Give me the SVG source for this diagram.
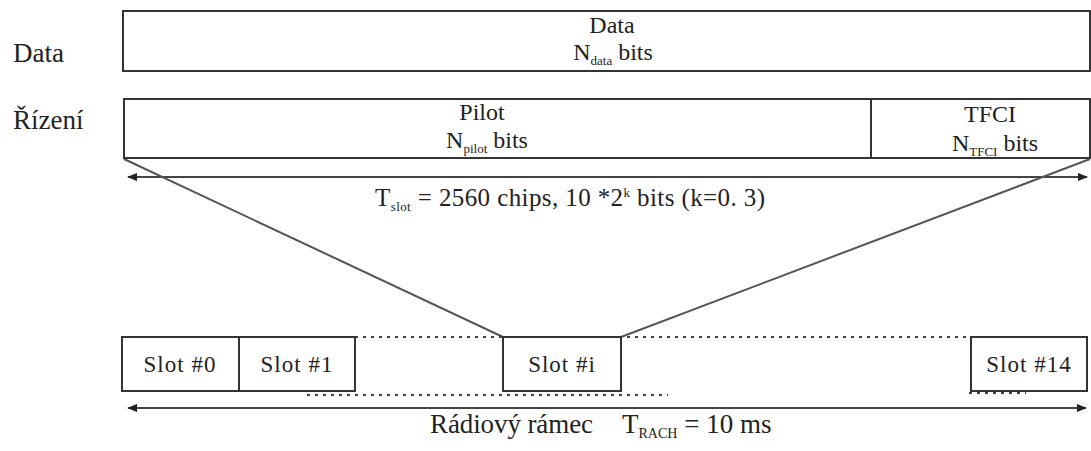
<svg xmlns="http://www.w3.org/2000/svg" width="1091" height="451" viewBox="0 0 1091 451">
<style>
.box{fill:#fff;stroke:#333;stroke-width:2}
.t{font-family:'Liberation Serif','DejaVu Serif',serif;fill:#222}
.lbl{font-size:27px}
.in{font-size:24px;text-anchor:middle}
.slot{font-size:23px;text-anchor:middle;letter-spacing:1px}
.sub{font-size:13px}
.dim{stroke:#444;stroke-width:2;fill:none}
.dot{stroke:#444;stroke-width:2;stroke-dasharray:3 5;fill:none}
.diag{stroke:#555;stroke-width:2;fill:none}
</style>
<defs>
<marker id="ah" viewBox="0 0 10 10" refX="9" refY="5" markerWidth="5" markerHeight="5" orient="auto-start-reverse">
<path d="M0,1 L10,5 L0,9 z" fill="#222"/>
</marker>
</defs>

<g id="label-data"><text class="t lbl" font-family="Liberation Serif" x="13" y="62">Data</text></g>
<g id="label-rizeni"><text class="t lbl" font-family="Liberation Serif" x="13" y="129">Řízení</text></g>

<g id="data-box">
<rect class="box" x="123" y="11" width="967" height="60"/>
<text class="t in" x="612" y="33">Data</text>
<text class="t in" x="613" y="60">N<tspan class="sub" dy="5">data</tspan><tspan dy="-5"> bits</tspan></text>
</g>

<g id="pilot-box">
<rect class="box" x="124" y="99" width="747" height="59"/>
<text class="t in" x="482" y="120">Pilot</text>
<text class="t in" x="487" y="148">N<tspan class="sub" dy="5">pilot</tspan><tspan dy="-5"> bits</tspan></text>
</g>

<g id="tfci-box">
<rect class="box" x="871" y="99" width="219" height="59"/>
<text class="t in" x="990" y="122">TFCI</text>
<text class="t in" x="995" y="151">N<tspan class="sub" dy="5">TFCI</tspan><tspan dy="-5"> bits</tspan></text>
</g>

<g id="slot-label"><text class="t" font-size="25" x="375" y="206" textLength="390" lengthAdjust="spacing">T<tspan class="sub" dy="5">slot</tspan><tspan dy="-5"> = 2560 chips, 10 *2</tspan><tspan class="sub" dy="-9">k</tspan><tspan dy="9"> bits (k=0. 3)</tspan></text></g>

<g id="connectors">
<line class="dim" x1="128" y1="177" x2="1087" y2="177" marker-start="url(#ah)" marker-end="url(#ah)"/>
<line class="diag" x1="124" y1="159" x2="503" y2="337"/>
<line class="diag" x1="1090" y1="159" x2="621" y2="337"/>
<line class="dot" x1="355" y1="337" x2="971" y2="337"/>
<line class="dot" x1="307" y1="395" x2="668" y2="395"/>
<line class="dot" x1="969" y1="393" x2="1026" y2="393"/>
<line class="dim" x1="128" y1="408" x2="1086" y2="408" marker-start="url(#ah)" marker-end="url(#ah)"/>
</g>

<g id="slot0">
<rect class="box" x="122" y="337" width="117" height="54"/>
<text class="t slot" x="180" y="372">Slot #0</text>
</g>
<g id="slot1">
<rect class="box" x="239" y="337" width="116" height="54"/>
<text class="t slot" x="297" y="372">Slot #1</text>
</g>
<g id="sloti">
<rect class="box" x="503" y="337" width="118" height="54"/>
<text class="t slot" x="562" y="372">Slot #i</text>
</g>
<g id="slot14">
<rect class="box" x="971" y="337" width="116" height="54"/>
<text class="t slot" x="1029" y="372">Slot #14</text>
</g>

<g id="frame-label"><text class="t" font-size="27" y="433"><tspan x="430" textLength="163" lengthAdjust="spacing">Rádiový rámec</tspan><tspan x="622">T</tspan><tspan font-size="14" dy="5">RACH</tspan><tspan dy="-5"> = 10 ms</tspan></text></g>
</svg>
